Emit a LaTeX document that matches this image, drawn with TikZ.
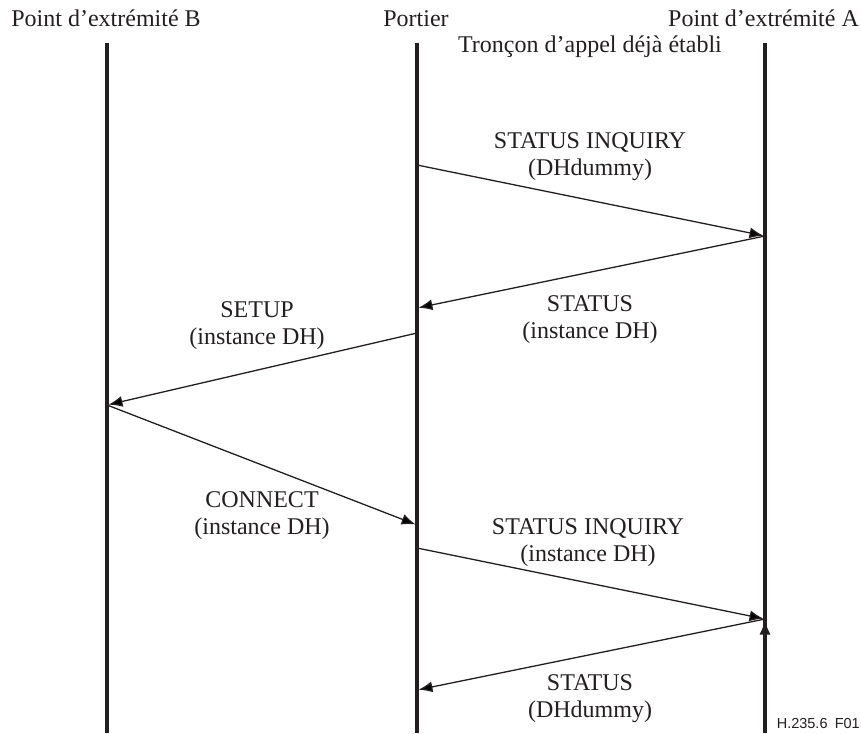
\documentclass[tikz,border=0pt]{standalone}
\usepackage{fontspec}
\setmainfont{Liberation Serif}
\setsansfont{Liberation Sans}
\usetikzlibrary{arrows.meta,positioning}

\definecolor{ink}{HTML}{231F20}
\tikzset{
  lifeline/.style={line width=3.2pt,draw=ink},
  msg/.style={->,>={Latex[length=14pt,width=11pt]},line width=1.3pt,draw=ink,shorten >=1.5pt},
  lbl/.style={align=center,inner sep=0pt,text=ink,font=\fontsize{24}{27}\selectfont}
}

\begin{document}
\begin{tikzpicture}[x=1pt,y=-1pt]
  \useasboundingbox (0,0) rectangle (861,733);
  % lifelines
  \coordinate (B_top) at (107,43);  \coordinate (B_bot) at (107,733);
  \coordinate (P_top) at (417,43);  \coordinate (P_bot) at (417,733);
  \coordinate (A_top) at (765,43);  \coordinate (A_bot) at (765,733);
  \draw[lifeline] (B_top) -- (B_bot);
  \draw[lifeline] (P_top) -- (P_bot);
  \draw[lifeline] (A_top) -- (A_bot);
  \node[lbl,anchor=base] (B_name) at (106,27) {Point d’extrémité B};
  \node[lbl,anchor=base] (P_name) at (416,27) {Portier};
  \node[lbl,anchor=base east] (A_name) at (859,27) {Point d’extrémité A};
  \node[lbl,anchor=base] (leg) at (590,53) {Tronçon d’appel déjà établi};
  % message points
  \coordinate (m1s) at (417,165); \coordinate (m1e) at (765,236);
  \coordinate (m2e) at (417,308);
  \coordinate (m3s) at (417,333); \coordinate (m3e) at (107,405);
  \coordinate (m4e) at (417,525);
  \coordinate (m5s) at (417,548); \coordinate (m5e) at (765,619);
  \coordinate (m6e) at (417,690);
  \path[msg]
    (m1s) edge (m1e)
    (m1e) edge (m2e)
    (m3s) edge (m3e)
    (m3e) edge (m4e)
    (m5s) edge (m5e)
    (m5e) edge (m6e);
  % labels
  \node[lbl] (l1) at (590,157) {STATUS INQUIRY\\(DHdummy)};
  \node[lbl] (l2) at (590,320) {STATUS\\(instance DH)};
  \node[lbl] (l3) at (257,326) {SETUP\\(instance DH)};
  \node[lbl] (l4) at (262,516) {CONNECT\\(instance DH)};
  \node[lbl] (l5) at (588,543) {STATUS INQUIRY\\(instance DH)};
  \node[lbl] (l6) at (590,699) {STATUS\\(DHdummy)};
  \node[font=\sffamily\fontsize{14.5}{16}\selectfont,text=ink,anchor=base east,inner sep=0pt] (fig) at (860,728) {H.235.6\enspace F01};
\end{tikzpicture}
\end{document}
